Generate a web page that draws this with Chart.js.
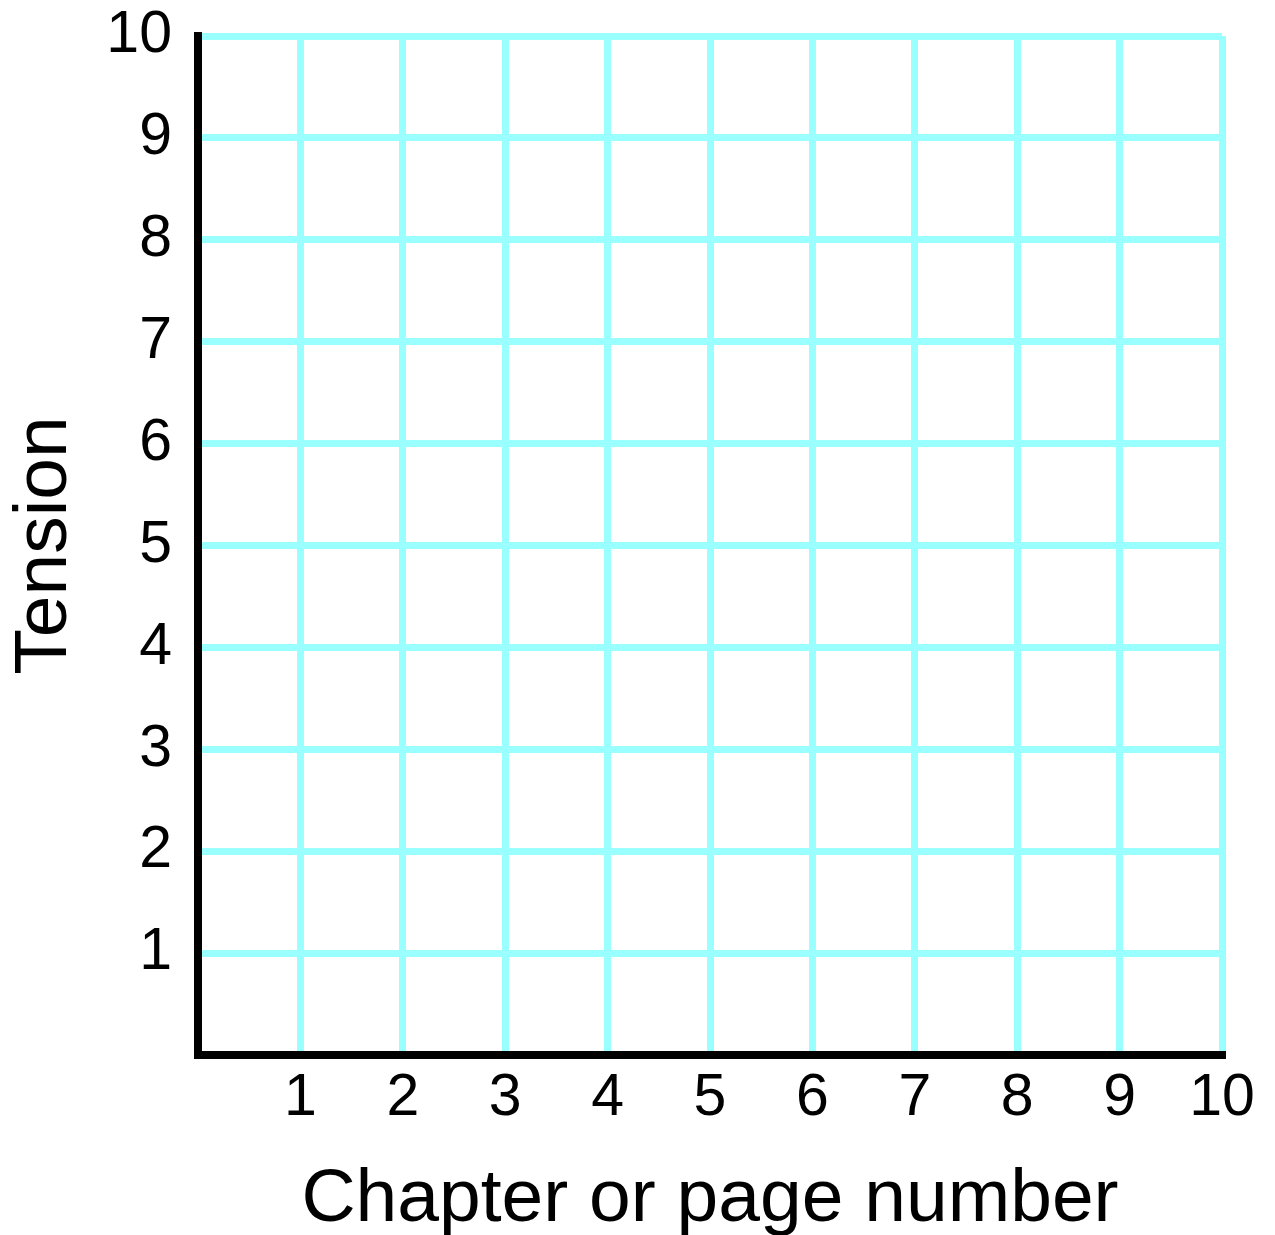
<!DOCTYPE html>
<html>
<head>
<meta charset="utf-8">
<script src="https://cdn.jsdelivr.net/npm/chart.js@4/dist/chart.umd.min.js"></script>
<style>
html,body{margin:0;padding:0;background:#fff;}
#wrap{width:1275px;height:1235px;}
</style>
</head>
<body>
<div id="wrap"><canvas id="c" width="1275" height="1235"></canvas></div>
<script>
const xTicks = [0,1,2,3,4,5,6,7,8,9,10];
const yTicks = [0,1,2,3,4,5,6,7,8,9,10];
const xTitle = 'Chapter or page number';
const yTitle = 'Tension';
const seriesValues = []; // empty grid: no data plotted

const FONT = '"Liberation Sans", Arial, Helvetica, sans-serif';
const GRID = '#99ffff';

new Chart(document.getElementById('c'), {
  type: 'scatter',
  data: { datasets: [{ data: seriesValues, showLine: false }] },
  options: {
    responsive: false,
    animation: false,
    events: [],
    layout: { padding: { top: 36, right: 53, bottom: 0, left: 0 } },
    plugins: { legend: { display: false }, tooltip: { enabled: false } },
    scales: {
      x: {
        type: 'linear', min: 0, max: 10,
        afterBuildTicks: s => { s.ticks = xTicks.map(v => ({ value: v })); },
        afterFit: s => { s.height = 180; s.paddingLeft = 0; s.paddingRight = 0; },
        grid: { color: GRID, lineWidth: 7, drawTicks: false },
        border: { color: '#000', width: 8 },
        ticks: {
          padding: 8, color: '#000', maxRotation: 0, autoSkip: false,
          font: { family: FONT, size: 59 },
          callback: v => v === 0 ? '' : String(v)
        },
        title: { display: true, text: xTitle, color: '#000', padding: { top: 0, bottom: -10 },
          font: { family: FONT, size: 75 } }
      },
      y: {
        type: 'linear', min: 0, max: 10,
        afterBuildTicks: s => { s.ticks = yTicks.map(v => ({ value: v })); },
        afterFit: s => { s.width = 198; s.paddingTop = 0; s.paddingBottom = 0; },
        grid: { color: GRID, lineWidth: 7, drawTicks: false },
        border: { color: '#000', width: 8 },
        ticks: {
          padding: 26, color: '#000', autoSkip: false,
          font: { family: FONT, size: 59 },
          callback: v => v === 0 ? '' : String(v)
        },
        title: { display: true, text: yTitle, color: '#000', padding: { top: 0, bottom: 0 },
          font: { family: FONT, size: 75 } }
      }
    }
  }
});
</script>
</body>
</html>
